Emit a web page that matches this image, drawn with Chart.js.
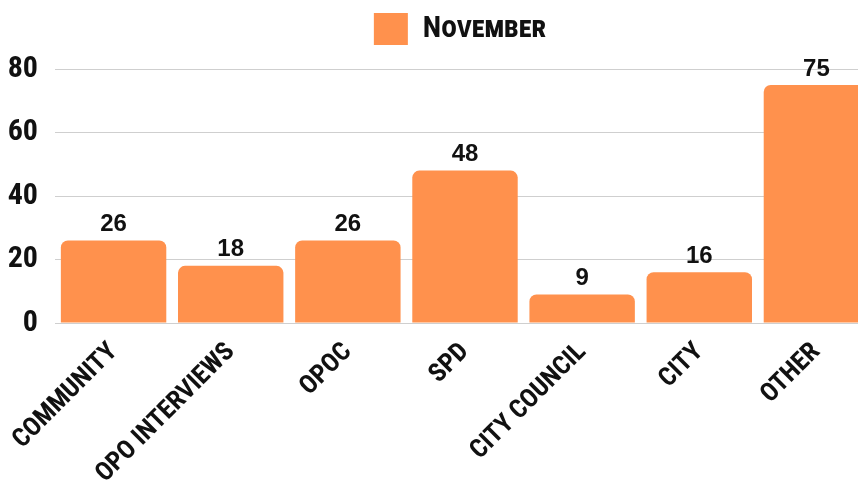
<!DOCTYPE html>
<html>
<head>
<meta charset="utf-8">
<script src="https://cdn.jsdelivr.net/npm/chart.js@4"></script>
<style>
  html, body { margin: 0; padding: 0; background: #fff; overflow: hidden; }
  #wrap { width: 914px; height: 487px; }
</style>
</head>
<body>
<div id="wrap"><canvas id="bars"></canvas></div>
<script>
var categories = ["COMMUNITY", "OPO INTERVIEWS", "OPOC", "SPD", "CITY COUNCIL", "CITY", "OTHER"];
var seriesName = "November";
var values = [26, 18, 26, 48, 9, 16, 75];
var yTicks = [0, 20, 40, 60, 80];

var narrow = "'Roboto Condensed', 'Open Sans Condensed', 'Liberation Sans Narrow', Roboto, sans-serif";

// draws the value above each bar
var valueLabels = {
  id: "valueLabels",
  afterDatasetsDraw: function (chart) {
    var ctx = chart.ctx;
    var meta = chart.getDatasetMeta(0);
    ctx.save();
    ctx.font = "bold 24px 'Liberation Sans', Arial, sans-serif";
    ctx.fillStyle = "#111";
    ctx.textAlign = "center";
    ctx.textBaseline = "bottom";
    meta.data.forEach(function (bar, i) {
      ctx.fillText(values[i], bar.x, bar.y - 4);
    });
    ctx.restore();
  }
};

// more room under the legend, and nudge it right a little
var legendTweak = {
  id: "legendTweak",
  beforeInit: function (chart) {
    var legend = chart.legend;
    var fit = legend.fit;
    legend.fit = function () {
      fit.bind(legend)();
      this.height += 14;
    };
    var draw = legend.draw;
    legend.draw = function () {
      var c = chart.ctx;
      c.save();
      c.translate(21, 0);
      draw.bind(legend)();
      c.restore();
    };
  }
};

var ctx = document.getElementById("bars");

new Chart(ctx, {
  type: "bar",
  data: {
    labels: categories,
    datasets: [
      {
        label: seriesName,
        data: values,
        backgroundColor: "#FF914D",
        borderRadius: { topLeft: 7, topRight: 7, bottomLeft: 0, bottomRight: 0 },
        borderSkipped: false,
        categoryPercentage: 0.9,
        barPercentage: 1
      }
    ]
  },
  options: {
    responsive: true,
    maintainAspectRatio: false,
    animation: false,
    layout: { autoPadding: false, padding: { left: 3, right: 39, top: 0, bottom: 0 } },
    plugins: {
      tooltip: { enabled: false },
      legend: {
        position: "top",
        labels: {
          boxWidth: 34,
          boxHeight: 32,
          padding: 13,
          color: "#111",
          font: { family: narrow, size: 30, weight: "small-caps 700" }
        }
      }
    },
    scales: {
      x: {
        grid: { display: false },
        border: { display: false },
        afterFit: function (scale) {
          scale.height = 164;
        },
        ticks: {
          color: "#111",
          minRotation: 45,
          maxRotation: 45,
          padding: 6,
          font: { family: narrow, size: 26, weight: "bold" }
        }
      },
      y: {
        min: 0,
        max: 80,
        afterBuildTicks: function (axis) {
          axis.ticks = yTicks.map(function (v) { return { value: v }; });
        },
        afterFit: function (scale) {
          scale.width = 52;
        },
        grid: { color: "#cfcfcf", lineWidth: 1, drawTicks: false },
        border: { display: false },
        ticks: {
          color: "#111",
          padding: 17,
          font: { family: narrow, size: 30, weight: "bold" }
        }
      }
    }
  },
  plugins: [valueLabels, legendTweak]
});
</script>
</body>
</html>
